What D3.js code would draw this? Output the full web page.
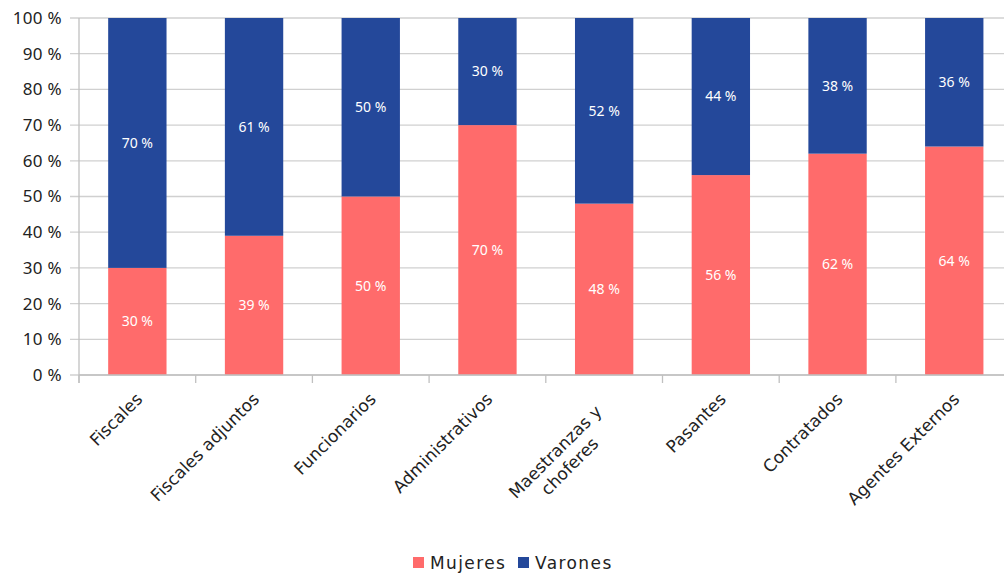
<!DOCTYPE html>
<html lang="es">
<head>
    <meta charset="UTF-8">
    <title>Mujeres y Varones por estamento</title>
    <script src="https://d3js.org/d3.v7.min.js"></script>
    <style>
        body { margin: 0; background: #fff; }
        text { font-family: "Noto Sans", "Open Sans", sans-serif; }
        .wide { font-family: "DejaVu Sans", "Noto Sans", sans-serif; }
    </style>
</head>
<body>
<svg id="chart"></svg>
<script>
    // data
    const categories = ["Fiscales", "Fiscales adjuntos", "Funcionarios", "Administrativos",
        "Maestranzas y\nchoferes", "Pasantes", "Contratados", "Agentes Externos"];
    const mujeres = [30, 39, 50, 70, 48, 56, 62, 64];
    const varones = [70, 61, 50, 30, 52, 44, 38, 36];
    const seriesNames = ["Mujeres", "Varones"];
    const colors = ["#ff6b6b", "#24489a"];
    const yTicks = [0, 10, 20, 30, 40, 50, 60, 70, 80, 90, 100];

    const width = 1004, height = 575;
    const plotLeft = 79, plotTop = 18, plotBottom = 375;
    const band = 116.7;

    const svg = d3.select("#chart").attr("width", width).attr("height", height);

    const x = d3.scaleBand()
        .domain(categories)
        .range([plotLeft, plotLeft + band * categories.length])
        .paddingInner(0.5).paddingOuter(0.25);

    const y = d3.scaleLinear().domain([0, 100]).range([plotBottom, plotTop]);

    // gridlines
    svg.append("g").selectAll("line")
        .data(yTicks)
        .join("line")
        .attr("x1", plotLeft - 9).attr("x2", width)
        .attr("y1", d => y(d)).attr("y2", d => y(d))
        .attr("stroke", "#d0d0d0").attr("stroke-width", 1.3);

    // y labels
    svg.append("g").selectAll("text")
        .data(yTicks)
        .join("text")
        .attr("x", 62).attr("y", d => y(d))
        .attr("dy", "0.35em")
        .attr("text-anchor", "end")
        .attr("font-size", 17)
        .attr("letter-spacing", "0.3px")
        .attr("fill", "#222")
        .text(d => d + " %");

    // stacked bars
    const rows = categories.map((c, i) => ({cat: c, Mujeres: mujeres[i], Varones: varones[i]}));
    const stacked = d3.stack().keys(seriesNames)(rows);

    svg.append("g").selectAll("g")
        .data(stacked)
        .join("g")
        .attr("fill", (d, i) => colors[i])
        .selectAll("rect")
        .data(d => d)
        .join("rect")
        .attr("x", d => x(d.data.cat))
        .attr("y", d => y(d[1]))
        .attr("width", x.bandwidth())
        .attr("height", d => y(d[0]) - y(d[1]));

    // value labels
    svg.append("g").selectAll("g")
        .data(stacked)
        .join("g")
        .selectAll("text")
        .data(d => d.map(v => ({v: v, val: v[1] - v[0]})))
        .join("text")
        .attr("x", d => x(d.v.data.cat) + x.bandwidth() / 2)
        .attr("y", d => y((d.v[0] + d.v[1]) / 2))
        .attr("dy", "0.35em")
        .attr("text-anchor", "middle")
        .attr("font-size", 14)
        .attr("fill", "#fff")
        .text(d => d.val + " %");

    // axis lines and ticks
    svg.append("line")
        .attr("x1", plotLeft).attr("x2", plotLeft)
        .attr("y1", plotTop).attr("y2", plotBottom + 8)
        .attr("stroke", "#c0c0c0").attr("stroke-width", 1.3);
    svg.append("line")
        .attr("x1", plotLeft).attr("x2", width)
        .attr("y1", plotBottom).attr("y2", plotBottom)
        .attr("stroke", "#c0c0c0").attr("stroke-width", 1.3);
    svg.append("g").selectAll("line")
        .data(d3.range(categories.length + 1))
        .join("line")
        .attr("x1", i => plotLeft + band * i).attr("x2", i => plotLeft + band * i)
        .attr("y1", plotBottom).attr("y2", plotBottom + 8)
        .attr("stroke", "#c0c0c0").attr("stroke-width", 1.3);

    // category labels, rotated
    const catLabels = svg.append("g").selectAll("g")
        .data(categories)
        .join("g")
        .attr("transform", d => `translate(${x(d) + x.bandwidth() / 2 + 2},${plotBottom + 21}) rotate(-45)`);

    catLabels.each(function (d) {
        const g = d3.select(this);
        const lines = d.split("\n");
        const multi = lines.length > 1;
        const t = g.append("text")
            .attr("class", "wide")
            .attr("font-size", 17)
            .attr("fill", "#222")
            .attr("text-anchor", "middle");
        lines.forEach((ln, j) => {
            t.append("tspan").attr("x", 0)
                .attr("dy", j === 0 ? (multi ? "0.55em" : "0.35em") : "1.2em")
                .text(ln);
        });
        const w = t.node().getBBox().width;
        t.attr("transform", `translate(${-w / 2 - (multi ? 14 : 0)},0)`);
    });

    // legend
    const legend = svg.append("g").attr("transform", "translate(413,563)");
    const items = [{n: seriesNames[0], c: colors[0], x: 0}, {n: seriesNames[1], c: colors[1], x: 105}];
    items.forEach(it => {
        legend.append("rect").attr("x", it.x).attr("y", -6).attr("width", 11).attr("height", 11).attr("fill", it.c);
        legend.append("text").attr("class", "wide").attr("x", it.x + 17).attr("y", 0).attr("dy", "0.35em")
            .attr("font-size", 17).attr("fill", "#222").attr("letter-spacing", "1.4px").text(it.n);
    });
</script>
</body>
</html>
